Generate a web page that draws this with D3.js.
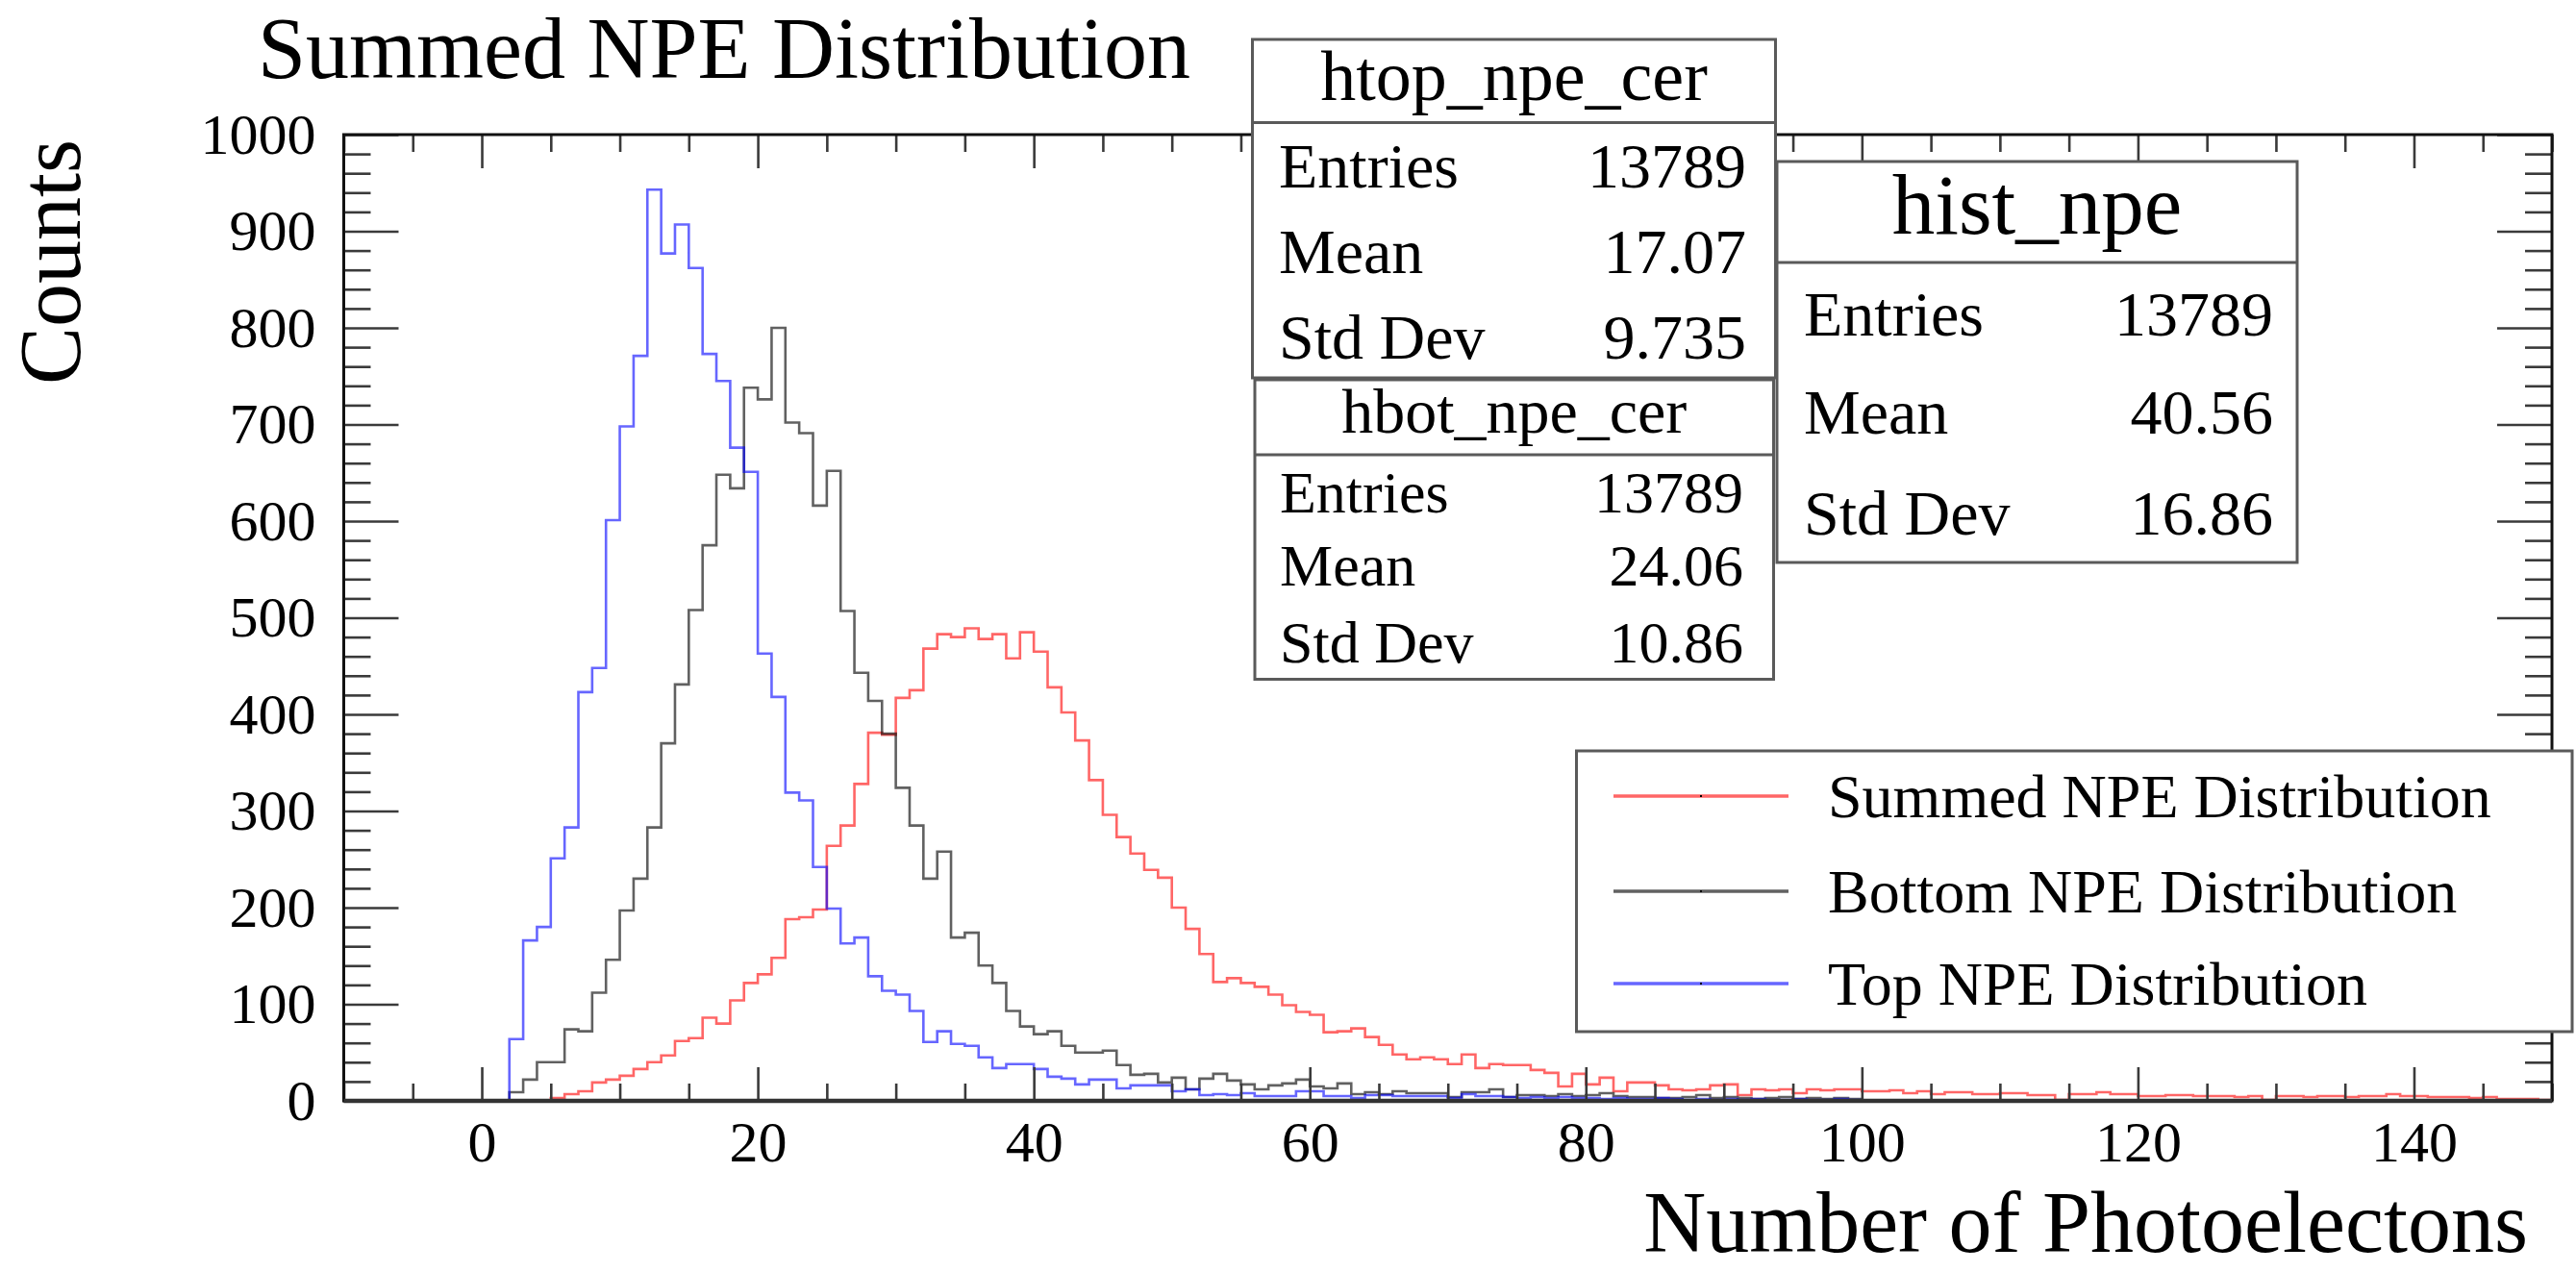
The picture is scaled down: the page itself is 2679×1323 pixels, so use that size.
<!DOCTYPE html>
<html>
<head>
<meta charset="utf-8">
<script src="https://cdn.jsdelivr.net/npm/d3@7"></script>
<style>
  html, body { margin: 0; padding: 0; background: #fff; }
  svg { display: block; }
  text { font-family: "Liberation Serif", "Times New Roman", "DejaVu Serif", serif; fill: #000; }
</style>
</head>
<body>
<svg id="chart" width="2679" height="1323"></svg>
<script>
// ---------------- data (bin width 1, first bin starts at binStart) ----------------
const binStart = 0;
const topCounts = [0,0,64,166,180,251,283,423,448,601,
  698,771,943,877,907,862,773,745,676,651,
  463,418,319,311,242,199,163,169,129,114,
  110,93,61,72,59,57,45,34,38,38,
  33,25,23,17,22,22,13,16,16,16,
  10,12,6,7,6,8,5,5,5,10,
  10,5,5,3,6,6,5,5,5,5,
  3,7,5,5,4,3,4,3,4,3,
  3,2,3,2,2,3,2,1,2,1,
  2,1,2,1,1,2,1,1,2,1];
const botCounts = [0,0,9,22,40,40,74,72,112,146,
  197,230,283,370,431,508,575,648,634,738,
  726,800,702,691,616,652,507,443,414,380,
  324,285,230,258,169,174,140,122,93,77,
  69,72,57,50,50,52,37,27,28,19,
  24,12,23,28,21,17,12,16,18,22,
  15,13,18,7,9,7,10,8,8,8,
  4,9,9,12,4,6,6,5,7,5,
  6,8,5,4,4,3,3,4,6,3,
  4,3,2,3,4,2,3,2,3,2];
const sumCounts = [0,0,0,0,0,3,7,10,19,22,
  26,33,40,47,62,65,86,80,104,122,
  131,148,188,190,198,264,285,328,381,379,
  417,425,468,483,480,489,478,483,458,485,
  465,428,402,373,332,296,273,256,239,231,
  200,178,152,123,127,122,118,110,99,92,
  89,71,72,75,66,58,48,43,45,43,
  38,48,34,38,37,37,32,29,15,28,
  17,24,10,19,19,16,12,11,12,16,
  17,6,12,11,12,8,12,11,12,12,
  10,10,11,8,10,7,9,9,7,7,
  8,8,6,6,1,7,7,9,7,7,
  5,5,6,6,5,5,5,4,5,1,
  5,5,4,5,5,4,5,5,7,5,
  5,4,4,4,3,4,2,2,2,1];

const xDomain = [-10, 150];
const yDomain = [0, 1000];
const xMajorTicks = [0, 20, 40, 60, 80, 100, 120, 140];
const xMinorStep = 5;
const yMajorTicks = [0, 100, 200, 300, 400, 500, 600, 700, 800, 900, 1000];
const yMinorStep = 20;

const titleText = "Summed NPE Distribution";
const xTitle = "Number of Photoelectons";
const yTitle = "Counts";

const statsNames = ["htop_npe_cer", "hbot_npe_cer", "hist_npe"];
const statsLabels = ["Entries", "Mean", "Std Dev"];
const statsTop = ["13789", "17.07", "9.735"];
const statsBot = ["13789", "24.06", "10.86"];
const statsSum = ["13789", "40.56", "16.86"];

const legendLabels = ["Summed NPE Distribution", "Bottom NPE Distribution", "Top NPE Distribution"];
const seriesColors = ["#ff0000", "#000000", "#0000ff"];

// ---------------- layout ----------------
const frame = { left: 357.5, right: 2654, top: 140, bottom: 1145 };
const svg = d3.select("#chart");
const x = d3.scaleLinear().domain(xDomain).range([frame.left, frame.right]);
const y = d3.scaleLinear().domain(yDomain).range([frame.bottom, frame.top]);

// histograms (red, black, blue; blue on top)
function histPoints(counts, start, leftEdge) {
  const pts = [];
  if (leftEdge !== undefined) pts.push({ e: leftEdge, v: 0 });
  pts.push({ e: start, v: 0 });
  counts.forEach((v, i) => pts.push({ e: start + i, v: v }));
  pts.push({ e: start + counts.length, v: 0 });
  return pts;
}
const line = d3.line().x(d => x(d.e)).y(d => y(d.v)).curve(d3.curveStepAfter);
const series = [
  { counts: sumCounts, color: seriesColors[0], left: xDomain[0] },
  { counts: botCounts, color: seriesColors[1] },
  { counts: topCounts, color: seriesColors[2] }
];
const hg = svg.append("g");
series.forEach(s => {
  hg.append("path")
    .attr("d", line(histPoints(s.counts, binStart, s.left)))
    .attr("fill", "none")
    .attr("stroke", s.color)
    .attr("stroke-opacity", s.color === "#000000" ? 0.62 : 0.6)
    .attr("stroke-width", 2.6)
    .attr("stroke-linejoin", "miter");
});

// axes (ticks inside frame, ROOT style)
const tickColor = "#3a3a3a";
const xMinor = d3.range(xDomain[0], xDomain[1] + 0.001, xMinorStep).filter(v => !xMajorTicks.includes(v));
const yMinor = d3.range(yDomain[0], yDomain[1] + 0.001, yMinorStep).filter(v => !yMajorTicks.includes(v));

function styleAxis(g) {
  g.select(".domain").remove();
  g.selectAll(".tick line").attr("stroke", tickColor).attr("stroke-width", 2.6);
  g.selectAll("text").attr("font-size", 60).attr("font-family", "Liberation Serif, serif").attr("fill", "#000");
}
// bottom
svg.append("g").attr("transform", `translate(0,${frame.bottom})`)
  .call(d3.axisBottom(x).tickValues(xMajorTicks).tickSize(-35).tickPadding(20).tickFormat(d3.format("d")))
  .call(styleAxis);
svg.append("g").attr("transform", `translate(0,${frame.bottom})`)
  .call(d3.axisBottom(x).tickValues(xMinor).tickSize(-18).tickFormat(""))
  .call(styleAxis);
// top
svg.append("g").attr("transform", `translate(0,${frame.top})`)
  .call(d3.axisTop(x).tickValues(xMajorTicks).tickSize(-35).tickFormat(""))
  .call(styleAxis);
svg.append("g").attr("transform", `translate(0,${frame.top})`)
  .call(d3.axisTop(x).tickValues(xMinor).tickSize(-18).tickFormat(""))
  .call(styleAxis);
// left
svg.append("g").attr("transform", `translate(${frame.left},0)`)
  .call(d3.axisLeft(y).tickValues(yMajorTicks).tickSize(-57).tickPadding(29).tickFormat(d3.format("d")))
  .call(styleAxis);
svg.append("g").attr("transform", `translate(${frame.left},0)`)
  .call(d3.axisLeft(y).tickValues(yMinor).tickSize(-28).tickFormat(""))
  .call(styleAxis);
// right
svg.append("g").attr("transform", `translate(${frame.right},0)`)
  .call(d3.axisRight(y).tickValues(yMajorTicks).tickSize(-57).tickFormat(""))
  .call(styleAxis);
svg.append("g").attr("transform", `translate(${frame.right},0)`)
  .call(d3.axisRight(y).tickValues(yMinor).tickSize(-28).tickFormat(""))
  .call(styleAxis);

// frame
svg.append("rect")
  .attr("x", frame.left).attr("y", frame.top)
  .attr("width", frame.right - frame.left).attr("height", frame.bottom - frame.top)
  .attr("fill", "none").attr("stroke", "#111").attr("stroke-width", 3);
svg.append("line")
  .attr("x1", frame.left).attr("x2", frame.right)
  .attr("y1", frame.bottom).attr("y2", frame.bottom)
  .attr("stroke", "#333").attr("stroke-width", 4.5);

// titles
svg.append("text").attr("x", 268).attr("y", 81).attr("font-size", 90).text(titleText);
svg.append("text").attr("x", 2629).attr("y", 1302).attr("font-size", 90).attr("text-anchor", "end").text(xTitle);
svg.append("text").attr("transform", "translate(83,145) rotate(-90)")
  .attr("font-size", 90).attr("text-anchor", "end").text(yTitle);

// stats boxes
const boxStroke = "#5a5a5a";
function statsBox(b) {
  const g = svg.append("g");
  g.append("rect").attr("x", b.x0).attr("y", b.y0).attr("width", b.x1 - b.x0).attr("height", b.y1 - b.y0)
    .attr("fill", "#fff").attr("stroke", boxStroke).attr("stroke-width", 3);
  g.append("line").attr("x1", b.x0).attr("x2", b.x1).attr("y1", b.sep).attr("y2", b.sep)
    .attr("stroke", boxStroke).attr("stroke-width", 3);
  g.append("text").attr("x", (b.x0 + b.x1) / 2).attr("y", b.titleY).attr("text-anchor", "middle")
    .attr("font-size", b.titleSize).text(b.name);
  statsLabels.forEach((lab, i) => {
    g.append("text").attr("x", b.textL).attr("y", b.rows[i]).attr("font-size", b.rowSize).text(lab);
    g.append("text").attr("x", b.textR).attr("y", b.rows[i]).attr("font-size", b.rowSize)
      .attr("text-anchor", "end").text(b.values[i]);
  });
}
statsBox({ name: statsNames[0], values: statsTop, x0: 1302.5, x1: 1846.5, y0: 41, y1: 393, sep: 127.5,
  titleY: 104, titleSize: 74, rows: [195, 284, 373], rowSize: 66, textL: 1330, textR: 1816 });
statsBox({ name: statsNames[1], values: statsBot, x0: 1305, x1: 1844.5, y0: 395, y1: 706.5, sep: 473,
  titleY: 450, titleSize: 66, rows: [533, 609, 689], rowSize: 62, textL: 1331, textR: 1813 });
statsBox({ name: statsNames[2], values: statsSum, x0: 1848, x1: 2389, y0: 168, y1: 585, sep: 273,
  titleY: 243, titleSize: 89, rows: [349, 451, 556], rowSize: 66, textL: 1876, textR: 2364 });

// legend
const leg = svg.append("g");
leg.append("rect").attr("x", 1639.5).attr("y", 781).attr("width", 2675 - 1639.5).attr("height", 1073 - 781)
  .attr("fill", "#fff").attr("stroke", boxStroke).attr("stroke-width", 3);
const legY = [828, 927, 1023];
legendLabels.forEach((lab, i) => {
  leg.append("line").attr("x1", 1678).attr("x2", 1860).attr("y1", legY[i]).attr("y2", legY[i])
    .attr("stroke", seriesColors[i]).attr("stroke-opacity", i === 1 ? 0.62 : 0.6).attr("stroke-width", 3.5);
  leg.append("rect").attr("x", 1768).attr("y", legY[i] - 1).attr("width", 2).attr("height", 2).attr("fill", "#000");
  leg.append("text").attr("x", 1901).attr("y", legY[i] + 22).attr("font-size", 64).text(lab);
});
</script>
</body>
</html>
